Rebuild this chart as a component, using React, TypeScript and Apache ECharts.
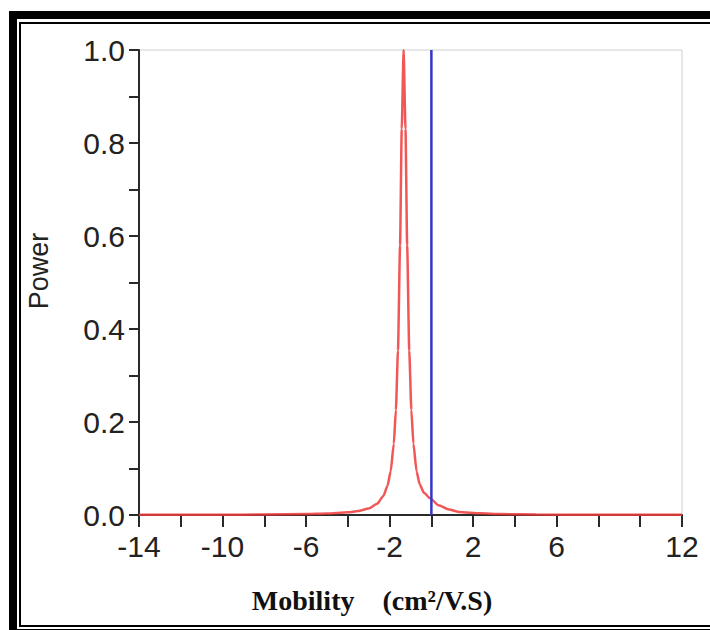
import React, { useEffect, useRef } from "react";
import * as echarts from "echarts";

// Red curve (Mobility spectrum)
const redX = [-14, -10, -8, -6, -5, -4, -3.5, -3, -2.6, -2.3, -2.1, -1.95, -1.8, -1.7, -1.6, -1.5, -1.42, -1.33, -1.24, -1.16, -1.06, -0.96, -0.86, -0.71, -0.56, -0.36, -0.06, 0.34, 0.84, 1.34, 2.34, 3.34, 5, 8, 12];
const redY = [0.0003, 0.0006, 0.001, 0.002, 0.0032, 0.0058, 0.0086, 0.014, 0.024, 0.041, 0.063, 0.094, 0.153, 0.226, 0.354, 0.58, 0.83, 1.0, 0.83, 0.58, 0.354, 0.226, 0.153, 0.094, 0.066, 0.048, 0.036, 0.021, 0.012, 0.0065, 0.0035, 0.002, 0.001, 0.0005, 0.0003];

// Blue vertical reference line
const blueX = [0, 0];
const blueY = [0, 1.0];

// Tick labels
const xTickLabels = [-14, -10, -6, -2, 2, 6, 12];
const yTickLabels = [0, 0.2, 0.4, 0.6, 0.8, 1.0];

const xName = "Mobility    (cm\u00B2/V.S)";
const yName = "Power";

export default function App() {
  const ref = useRef<HTMLDivElement>(null);
  useEffect(() => {
    if (!ref.current) return;
    const chart = echarts.init(ref.current, null, { renderer: "svg" });
    const sans = "'Liberation Sans', Arial, sans-serif";
    chart.setOption({
      animation: false,
      backgroundColor: "#ffffff",
      grid: {
        left: 139,
        right: 28,
        top: 50,
        bottom: 115,
        show: true,
        borderColor: "#d0d0d0",
        borderWidth: 1,
        backgroundColor: "transparent",
      },
      xAxis: {
        type: "value",
        min: -14,
        max: 12,
        interval: 2,
        axisLine: { show: true, onZero: false, lineStyle: { color: "#2a2a2a", width: 2 } },
        axisTick: { show: true, length: 12, lineStyle: { color: "#2a2a2a", width: 2 } },
        splitLine: { show: false },
        axisLabel: {
          show: true,
          showMaxLabel: true,
          showMinLabel: true,
          margin: 16,
          fontSize: 30,
          fontFamily: sans,
          color: "#222",
          formatter: (v: number) => (xTickLabels.includes(Math.round(v)) ? String(Math.round(v)) : ""),
        },
      },
      yAxis: {
        type: "value",
        min: 0,
        max: 1,
        interval: 0.1,
        axisLine: { show: true, onZero: false, lineStyle: { color: "#2a2a2a", width: 2 } },
        axisTick: { show: true, length: 10, lineStyle: { color: "#2a2a2a", width: 2 } },
        splitLine: { show: false },
        axisLabel: {
          margin: 14,
          fontSize: 30,
          fontFamily: sans,
          color: "#222",
          formatter: (v: number) => {
            const r = Math.round(v * 10) / 10;
            return yTickLabels.some((t) => Math.abs(t - r) < 1e-6) ? r.toFixed(1) : "";
          },
        },
      },
      series: [
        {
          type: "line",
          data: redX.map((x, i) => [x, redY[i]]),
          smooth: 0.2,
          smoothMonotone: "x",
          showSymbol: false,
          lineStyle: { color: "#ee3a3a", width: 2.5, opacity: 0.85 },
          z: 3,
        },
        {
          type: "line",
          data: blueX.map((x, i) => [x, blueY[i]]),
          showSymbol: false,
          lineStyle: { color: "#3535c8", width: 2.5 },
          z: 4,
        },
      ],
      graphic: [
        { type: "rect", shape: { x: 9, y: 11, width: 701, height: 8 }, style: { fill: "#000" }, silent: true },
        { type: "rect", shape: { x: 9, y: 11, width: 8, height: 619 }, style: { fill: "#000" }, silent: true },
        { type: "rect", shape: { x: 9, y: 629, width: 701, height: 2 }, style: { fill: "#000" }, silent: true },
        {
          type: "rect",
          shape: { x: 20, y: 23, width: 700, height: 603 },
          style: { fill: "none", stroke: "#000", lineWidth: 2 },
          silent: true,
        },
        {
          type: "text",
          x: 39,
          y: 271,
          rotation: Math.PI / 2,
          style: {
            text: yName,
            fill: "#222",
            fontSize: 27,
            fontFamily: sans,
            textAlign: "center",
            textVerticalAlign: "middle",
          },
          silent: true,
        },
        {
          type: "text",
          x: 372,
          y: 600,
          style: {
            text: xName,
            fill: "#111",
            fontSize: 28,
            fontWeight: "bold",
            fontFamily: "'Liberation Serif', 'Times New Roman', serif",
            textAlign: "center",
            textVerticalAlign: "middle",
          },
          silent: true,
        },
      ],
    });
    return () => chart.dispose();
  }, []);
  return (
    <div
      ref={ref}
      style={{ position: "absolute", left: 0, top: 0, width: 710, height: 630, background: "#fff" }}
    />
  );
}
